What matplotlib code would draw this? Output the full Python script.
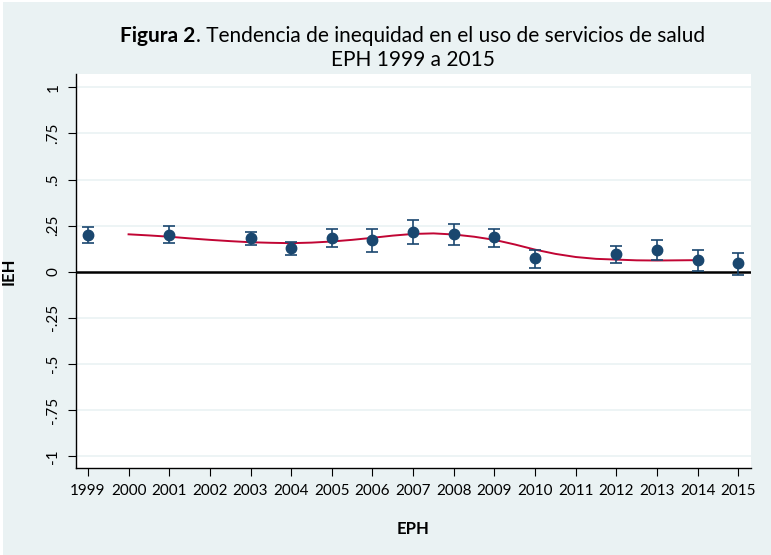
"""Figura 2: tendencia de inequidad en el uso de servicios de salud (EPH 1999-2015)."""
import matplotlib
matplotlib.use("Agg")
import matplotlib.pyplot as plt
from matplotlib.patches import Rectangle

# point estimates with 95% CI
years = [1999, 2001, 2003, 2004, 2005, 2006, 2007, 2008, 2009, 2010, 2012, 2013, 2014, 2015]
ieh = [0.200, 0.200, 0.184, 0.130, 0.184, 0.173, 0.218, 0.202, 0.186, 0.073, 0.096, 0.120, 0.063, 0.045]
ci_low = [0.155, 0.155, 0.143, 0.091, 0.134, 0.107, 0.152, 0.145, 0.134, 0.020, 0.050, 0.063, 0.005, -0.016]
ci_high = [0.240, 0.250, 0.218, 0.164, 0.234, 0.234, 0.282, 0.261, 0.234, 0.120, 0.139, 0.170, 0.120, 0.100]

# smoothed trend (red line)
trend_x = [2000, 2000.5, 2001, 2001.5, 2002, 2002.5, 2003, 2003.5, 2004, 2004.5,
           2005, 2005.5, 2006, 2006.5, 2007, 2007.5, 2008, 2008.5, 2009, 2009.5,
           2010, 2010.5, 2011, 2011.5, 2012, 2012.5, 2013, 2013.5, 2014]
trend_y = [0.203, 0.197, 0.190, 0.181, 0.173, 0.166, 0.160, 0.157, 0.155, 0.158,
           0.164, 0.173, 0.184, 0.196, 0.205, 0.208, 0.202, 0.190, 0.173, 0.148,
           0.120, 0.097, 0.080, 0.070, 0.066, 0.062, 0.061, 0.062, 0.063]

x_ticks = list(range(1999, 2016))
y_ticks = [1, 0.75, 0.5, 0.25, 0, -0.25, -0.5, -0.75, -1]
y_labels = ["1", ".75", ".5", ".25", "0", "-.25", "-.5", "-.75", "-1"]

NAVY = "#1a476f"
CRANBERRY = "#c10534"
BG = "#eaf2f3"

plt.rcParams["font.family"] = ["Lato", "DejaVu Sans"]

fig = plt.figure(figsize=(7.71, 5.55), dpi=100)
fig.patch.set_facecolor("white")
fig.add_artist(Rectangle((3 / 771, 0.0), 768 / 771, 553 / 555, transform=fig.transFigure,
                         facecolor=BG, edgecolor="none", zorder=-10))

ax = fig.add_axes([0.0982, 0.1562, 0.8755, 0.7099])
ax.set_facecolor("white")

for y in y_ticks:
    if y != 0:
        ax.axhline(y, color=BG, lw=1.2, zorder=0)
ax.axhline(0, color="black", lw=1.8, zorder=1)

ax.plot(trend_x, trend_y, color=CRANBERRY, lw=1.4, zorder=2)
err = [[v - lo for v, lo in zip(ieh, ci_low)], [hi - v for v, hi in zip(ieh, ci_high)]]
ax.errorbar(years, ieh, yerr=err, fmt="o", color=NAVY, ms=7.5, elinewidth=1.2,
            capsize=4.5, capthick=1.2, zorder=3)

ax.set_xlim(1998.70, 2015.305)
ax.set_ylim(-1.065, 1.070)
ax.set_xticks(x_ticks)
ax.set_xticklabels([str(x) for x in x_ticks], fontsize=11)
ax.set_yticks(y_ticks)
ax.set_yticklabels(y_labels, rotation=90, va="center", fontsize=11)
ax.tick_params(axis="both", length=6, width=0.8, color="black", pad=5)
for side in ("top", "right"):
    ax.spines[side].set_visible(False)
for side in ("left", "bottom"):
    ax.spines[side].set_linewidth(1.0)

ax.set_xlabel("EPH", fontsize=12, fontweight="bold", labelpad=17)
fig.text(9 / 771, 0.5117, "IEH", rotation=90, ha="center", va="center",
         fontsize=12, fontweight="bold")

# title: bold "Figura 2" followed by regular text, centred over the plot
renderer = fig.canvas.get_renderer()
cx = 412.5 / 771
y1 = 1 - 42 / 555
bold = fig.text(0, y1, "Figura 2", fontsize=15, fontweight="bold", va="baseline")
rest = fig.text(0, y1, ". Tendencia de inequidad en el uso de servicios de salud",
                fontsize=15, va="baseline")
wb = bold.get_window_extent(renderer).width / 771
wr = rest.get_window_extent(renderer).width / 771
x0 = cx - (wb + wr) / 2
bold.set_x(x0)
rest.set_x(x0 + wb)
fig.text(cx, 1 - 66 / 555, "EPH 1999 a 2015", fontsize=15, ha="center", va="baseline")

fig.savefig("out.png", dpi=100)
